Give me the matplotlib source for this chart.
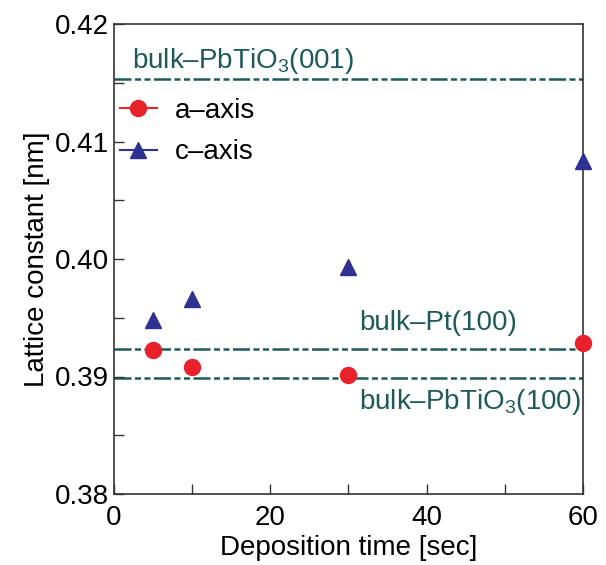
import matplotlib
matplotlib.use("Agg")
import matplotlib.pyplot as plt
from matplotlib.lines import Line2D
from matplotlib.ticker import MultipleLocator, FixedLocator, FormatStrFormatter

plt.rcParams['font.family'] = ['Liberation Sans', 'DejaVu Sans']
plt.rcParams['mathtext.fontset'] = 'custom'
plt.rcParams['mathtext.rm'] = 'Liberation Sans'
plt.rcParams['mathtext.it'] = 'Liberation Sans'

# Data
time_a = [5, 10, 30, 60]
a_axis = [0.39228, 0.39078, 0.3901, 0.39288]
time_c = [5, 10, 30, 60]
c_axis = [0.39477, 0.3966, 0.39929, 0.40837]
ref_values = [0.4153, 0.3923, 0.3899]
ref_labels = ["bulk\u2013PbTiO$_\\mathregular{3}$(001)", "bulk\u2013Pt(100)",
              "bulk\u2013PbTiO$_\\mathregular{3}$(100)"]
ref_label_pos = [(2.36, 0.41626), (31.4, 0.39396), (31.4, 0.38721)]
x_ticks = [0, 20, 40, 60]
y_ticks = [0.38, 0.39, 0.40, 0.41, 0.42]

red = '#e9212b'
blue = '#2e3192'
teal = '#1e5b58'
fs = 20

fig = plt.figure(figsize=(6.06, 5.65), dpi=100)
W, H = 606, 565
l, r, t, b = 113.5, 583, 24, 494
ax = fig.add_axes([l / W, 1 - b / H, (r - l) / W, (b - t) / H])

lw_pt = 1.8
lw_px = lw_pt * 100 / 72
dash = tuple(v / lw_px for v in (17, 3.5, 6, 3.5, 6, 3.5))
for v in ref_values:
    ax.axhline(v, color=teal, lw=lw_pt, linestyle=(0, dash), zorder=1)
for (xx, yy), lab in zip(ref_label_pos, ref_labels):
    ax.text(xx, yy, lab, color=teal, fontsize=fs, ha='left', va='baseline')

ax.plot(time_a, a_axis, 'o', color=red, ms=11.5, mec=red, clip_on=False, zorder=3)
ax.plot(time_c, c_axis, '^', color=blue, ms=11, mec=blue, clip_on=False, zorder=3)

ax.set_xlim(0, 60)
ax.set_ylim(0.38, 0.42)
ax.xaxis.set_major_locator(FixedLocator(x_ticks))
ax.xaxis.set_minor_locator(MultipleLocator(10))
ax.yaxis.set_major_locator(FixedLocator(y_ticks))
ax.yaxis.set_minor_locator(MultipleLocator(0.005))
ax.yaxis.set_major_formatter(FormatStrFormatter('%.2f'))
ax.tick_params(which='both', direction='in', length=7, width=1, color='#333333',
               labelsize=fs, top=False, right=False)
ax.tick_params(axis='x', which='both', pad=8)
ax.tick_params(axis='y', which='both', pad=3.5)
for s in ax.spines.values():
    s.set_linewidth(1.2)
    s.set_color('#333333')

ax.set_xlabel('Deposition time [sec]', fontsize=fs, labelpad=3)
ax.set_ylabel('Lattice constant [nm]', fontsize=fs, labelpad=3)

handles = [Line2D([], [], color=red, marker='o', ms=11.5, lw=1.5),
           Line2D([], [], color=blue, marker='^', ms=11, lw=1.5)]
leg = fig.legend(handles, ['a\u2013axis', 'c\u2013axis'], loc='upper left',
                 bbox_to_anchor=(120 / W, 1 - 98 / H), frameon=False, fontsize=fs,
                 borderaxespad=0, borderpad=0, handlelength=1.33, handletextpad=0.65,
                 labelspacing=0.55)

fig.savefig('out.png', dpi=100)
